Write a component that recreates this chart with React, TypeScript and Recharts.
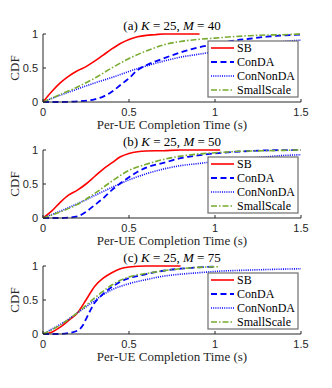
import { Line, LineChart, XAxis, YAxis } from "recharts";

const SERIF = '"Liberation Serif", "Times New Roman", serif';
const SANS = '"Liberation Sans", Arial, sans-serif';
const AXIS = "#262626";

const xTicks = [0, 0.5, 1, 1.5];
const yTicks = [0, 0.5, 1];

// (a) K = 25, M = 40
const sbA = [[0, 0], [0.05, 0.15], [0.1, 0.28], [0.15, 0.38], [0.2, 0.46], [0.25, 0.52], [0.3, 0.6], [0.35, 0.69], [0.4, 0.78], [0.45, 0.86], [0.5, 0.92], [0.55, 0.96], [0.6, 0.98], [0.65, 0.99], [0.7, 1], [0.91, 1]];
const condaA = [[0, 0], [0.1, 0], [0.2, 0.01], [0.3, 0.04], [0.35, 0.08], [0.4, 0.15], [0.45, 0.25], [0.5, 0.35], [0.55, 0.47], [0.6, 0.54], [0.7, 0.64], [0.8, 0.73], [0.9, 0.8], [1, 0.85], [1.1, 0.9], [1.2, 0.93], [1.3, 0.96], [1.4, 0.98], [1.5, 0.99]];
const connondaA = [[0, 0], [0.1, 0.1], [0.2, 0.19], [0.3, 0.28], [0.4, 0.36], [0.5, 0.45], [0.6, 0.53], [0.7, 0.6], [0.8, 0.66], [0.9, 0.7], [1, 0.74], [1.1, 0.78], [1.2, 0.82], [1.3, 0.86], [1.4, 0.89], [1.5, 0.91]];
const smallA = [[0, 0], [0.1, 0.11], [0.2, 0.22], [0.3, 0.35], [0.4, 0.5], [0.5, 0.64], [0.6, 0.75], [0.7, 0.84], [0.8, 0.89], [0.9, 0.92], [1, 0.94], [1.1, 0.96], [1.2, 0.975], [1.3, 0.985], [1.4, 0.99], [1.5, 1]];

// (b) K = 25, M = 50
const sbB = [[0, 0], [0.05, 0.1], [0.1, 0.23], [0.15, 0.34], [0.2, 0.41], [0.25, 0.5], [0.3, 0.61], [0.35, 0.72], [0.4, 0.81], [0.45, 0.9], [0.5, 0.95], [0.55, 0.975], [0.6, 0.985], [0.7, 0.99], [0.8, 1], [1.03, 1]];
const condaB = [[0, 0], [0.1, 0], [0.2, 0.025], [0.25, 0.09], [0.3, 0.19], [0.35, 0.29], [0.4, 0.41], [0.45, 0.51], [0.5, 0.6], [0.55, 0.68], [0.6, 0.74], [0.7, 0.81], [0.8, 0.88], [0.9, 0.92], [1, 0.95], [1.1, 0.97], [1.2, 0.985], [1.3, 0.995], [1.5, 1]];
const connondaB = [[0, 0], [0.1, 0.1], [0.2, 0.21], [0.3, 0.33], [0.4, 0.45], [0.5, 0.56], [0.6, 0.65], [0.7, 0.72], [0.8, 0.77], [0.9, 0.8], [1, 0.83], [1.1, 0.86], [1.2, 0.88], [1.3, 0.9], [1.4, 0.92], [1.5, 0.93]];
const smallB = [[0, 0], [0.1, 0.09], [0.2, 0.2], [0.3, 0.36], [0.4, 0.54], [0.5, 0.7], [0.6, 0.79], [0.7, 0.86], [0.8, 0.91], [0.9, 0.94], [1, 0.96], [1.1, 0.975], [1.2, 0.985], [1.3, 0.99], [1.4, 0.995], [1.5, 1]];

// (c) K = 25, M = 75
const sbC = [[0, 0], [0.05, 0.025], [0.1, 0.1], [0.15, 0.2], [0.2, 0.31], [0.25, 0.5], [0.3, 0.7], [0.35, 0.82], [0.4, 0.9], [0.45, 0.96], [0.5, 0.985], [0.6, 1], [0.8, 1]];
const condaC = [[0, 0], [0.1, 0], [0.15, 0.015], [0.2, 0.05], [0.23, 0.12], [0.25, 0.22], [0.28, 0.37], [0.3, 0.46], [0.33, 0.54], [0.35, 0.59], [0.4, 0.69], [0.45, 0.77], [0.5, 0.82], [0.6, 0.88], [0.7, 0.93], [0.8, 0.96], [0.9, 0.98], [1, 0.99]];
const connondaC = [[0, 0], [0.05, 0.07], [0.1, 0.14], [0.15, 0.22], [0.2, 0.31], [0.25, 0.4], [0.3, 0.49], [0.35, 0.58], [0.4, 0.65], [0.5, 0.74], [0.6, 0.8], [0.7, 0.85], [0.8, 0.88], [0.9, 0.9], [1, 0.92], [1.2, 0.94], [1.5, 0.96]];
const smallC = [[0, 0], [0.05, 0.06], [0.1, 0.13], [0.15, 0.22], [0.2, 0.31], [0.25, 0.42], [0.3, 0.53], [0.35, 0.63], [0.4, 0.72], [0.45, 0.79], [0.5, 0.84], [0.6, 0.89], [0.7, 0.93], [0.8, 0.96], [0.9, 0.98], [1.02, 0.99]];

const series = [
  { name: "SB", color: "#ff0000", dash: undefined, width: 1.6 },
  { name: "ConDA", color: "#0000ff", dash: "6 3.5", width: 1.8 },
  { name: "ConNonDA", color: "#0000ff", dash: "1 1.2", width: 1.6 },
  { name: "SmallScale", color: "#77ac30", dash: "6 2 1.5 2", width: 1.6 },
];

const panels = [
  { tag: "(a)", m: 40, top: 34, data: [sbA, condaA, connondaA, smallA] },
  { tag: "(b)", m: 50, top: 150, data: [sbB, condaB, connondaB, smallB] },
  { tag: "(c)", m: 75, top: 266, data: [sbC, condaC, connondaC, smallC] },
];

const toPts = (pairs: number[][]) => pairs.map(([t, v]) => ({ t, v }));

function LegendBox() {
  return (
    <svg
      width={92}
      height={58}
      style={{ position: "absolute", left: 207, top: 26, zIndex: 5, display: "block" }}
    >
      <rect x={1} y={1} width={90} height={56} fill="#ffffff" stroke="#6e6e6e" strokeWidth={1.2} />
      {series.map((s, i) => (
        <g key={s.name}>
          <line x1={4} x2={27} y1={8 + i * 14} y2={8 + i * 14} stroke={s.color} strokeWidth={s.width} strokeDasharray={s.dash} />
          <text x={30} y={12 + i * 14} fontFamily={SERIF} fontSize={12} fill="#000">
            {s.name}
          </text>
        </g>
      ))}
    </svg>
  );
}

function Panel({ tag, m, top, data }: { tag: string; m: number; top: number; data: number[][][] }) {
  return (
    <div style={{ position: "absolute", left: 0, top: top - 20, width: 332, height: 122 }}>
      <div
        style={{
          position: "absolute",
          left: 43,
          width: 258,
          top: 4,
          textAlign: "center",
          fontFamily: SERIF,
          fontSize: 13,
          lineHeight: "16px",
          color: "#000",
          zIndex: 2,
        }}
      >
        {tag} <i>K</i> = 25, <i>M</i> = {m}
      </div>
      <LineChart width={332} height={122} margin={{ top: 20, right: 31, bottom: 6, left: 0 }}>
        <XAxis
          dataKey="t"
          type="number"
          domain={[0, 1.5]}
          ticks={xTicks}
          allowDataOverflow
          height={28}
          stroke={AXIS}
          tickSize={-3}
          tickMargin={9}
          tick={{ fontSize: 11, fontFamily: SANS, fill: AXIS }}
          label={{ value: "Per-UE Completion Time (s)", position: "insideBottom", offset: 1, fontSize: 13, fontFamily: SERIF, fill: AXIS }}
        />
        <XAxis xAxisId="top" orientation="top" dataKey="t" type="number" domain={[0, 1.5]} ticks={xTicks} height={0} stroke={AXIS} tickSize={-3} tickFormatter={() => ""} />
        <YAxis
          type="number"
          domain={[0, 1]}
          ticks={yTicks}
          width={43}
          stroke={AXIS}
          tickSize={-3}
          tickMargin={8}
          tick={{ fontSize: 11, fontFamily: SANS, fill: AXIS }}
          label={{ value: "CDF", angle: -90, position: "center", dx: -7, fontSize: 13, fontFamily: SERIF, fill: AXIS }}
        />
        <YAxis yAxisId="r" orientation="right" type="number" domain={[0, 1]} ticks={yTicks} width={0} stroke={AXIS} tickSize={-3} tickFormatter={() => ""} />
        {series.map((s, i) => (
          <Line
            key={s.name}
            data={toPts(data[i])}
            dataKey="v"
            name={s.name}
            type="monotone"
            stroke={s.color}
            strokeWidth={s.width}
            strokeDasharray={s.dash}
            dot={false}
            isAnimationActive={false}
          />
        ))}
      </LineChart>
      <LegendBox />
    </div>
  );
}

export default function App() {
  return (
    <div style={{ position: "absolute", left: 0, top: 0, width: 332, height: 388, background: "#fff", overflow: "hidden" }}>
      {panels.map((p) => (
        <Panel key={p.tag} {...p} />
      ))}
    </div>
  );
}
